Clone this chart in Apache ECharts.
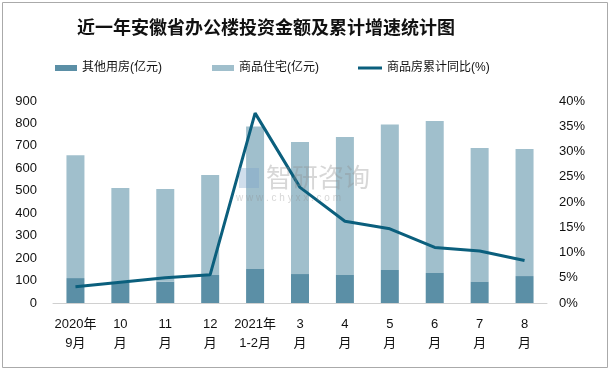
<!DOCTYPE html>
<html><head><meta charset="utf-8">
<script src="https://cdn.jsdelivr.net/npm/echarts@6/dist/echarts.min.js"></script>
<style>html,body{margin:0;padding:0;background:#fff}#c{width:611px;height:371px}</style>
</head><body><div id="c"></div>
<script>
const categories = ['2020年\n9月','10\n月','11\n月','12\n月','2021年\n1-2月','3\n月','4\n月','5\n月','6\n月','7\n月','8\n月'];
const otherHousing = [111, 90, 95, 125, 152, 129, 125, 147, 134, 94, 120];
const residential = [547, 422, 413, 445, 634, 588, 615, 648, 677, 597, 566];
const yoyGrowth = [3.2, 4.1, 5.0, 5.6, 37.6, 22.9, 16.2, 14.7, 11.0, 10.3, 8.4];
const leftTicks = [0, 900, 100];
const rightTicks = [0, 40, 5];

const font = '"Liberation Sans", "Noto Sans CJK SC", sans-serif';
const chart = echarts.init(document.getElementById('c'), null, {renderer: 'canvas'});
chart.setOption({
  animation: false,
  backgroundColor: '#fff',
  title: {
    text: '近一年安徽省办公楼投资金额及累计增速统计图',
    left: 261, top: 13, textAlign: 'center',
    textStyle: {fontSize: 18, fontWeight: 'bold', color: '#111', fontFamily: '"Noto Sans CJK SC", sans-serif'}
  },
  legend: [
    {
      top: 57, left: 50, itemGap: 50, itemWidth: 22, itemHeight: 6,
      textStyle: {fontSize: 12, color: '#111', fontFamily: font},
      data: [
        {name: '其他用房(亿元)', icon: 'rect'},
        {name: '商品住宅(亿元)', icon: 'rect'}
      ]
    },
    {
      top: 57, left: 353, itemWidth: 24, itemHeight: 3, icon: 'rect',
      textStyle: {fontSize: 12, color: '#111', fontFamily: font},
      data: [{name: '商品房累计同比(%)', icon: 'rect'}]
    }
  ],
  graphic: [
    {type: 'rect', shape: {x: 2.5, y: 2.5, width: 605, height: 365}, style: {fill: 'none', stroke: '#aaa', lineWidth: 1}, silent: true},
    {type: 'rect', shape: {x: 239, y: 168, width: 20, height: 20}, style: {fill: 'rgba(120,160,200,0.35)'}, z: 10, silent: true},
    {type: 'text', left: 266, top: 164, z: 10, silent: true, style: {text: '智研咨询', fontSize: 26, fill: 'rgba(140,140,140,0.35)', fontFamily: '"Noto Sans CJK SC", sans-serif'}},
    {type: 'text', left: 236, top: 193, z: 10, silent: true, style: {text: 'w w w . c h y x x . c o m', fontSize: 10, fill: 'rgba(140,140,140,0.35)', fontFamily: font}}
  ],
  grid: {left: 53, right: 64, top: 101, bottom: 68},
  xAxis: {
    type: 'category', data: categories,
    axisLine: {lineStyle: {color: '#d0d0d0', width: 1}},
    axisTick: {show: false},
    axisLabel: {interval: 0, fontSize: 13, color: '#111', lineHeight: 19, margin: 12, fontFamily: font}
  },
  yAxis: [
    {type: 'value', min: leftTicks[0], max: leftTicks[1], interval: leftTicks[2],
     splitLine: {show: false}, axisLine: {show: false}, axisTick: {show: false},
     axisLabel: {fontSize: 13, color: '#111', margin: 16, fontFamily: font}},
    {type: 'value', min: rightTicks[0], max: rightTicks[1], interval: rightTicks[2],
     splitLine: {show: false}, axisLine: {show: false}, axisTick: {show: false},
     axisLabel: {fontSize: 13, color: '#111', margin: 12, formatter: '{value}%', fontFamily: font}}
  ],
  series: [
    {name: '其他用房(亿元)', type: 'bar', stack: 's', data: otherHousing, barWidth: 18,
     itemStyle: {color: '#5b8fa6'}},
    {name: '商品住宅(亿元)', type: 'bar', stack: 's', data: residential, barWidth: 18,
     itemStyle: {color: '#a0bfcc'}},
    {name: '商品房累计同比(%)', type: 'line', yAxisIndex: 1, data: yoyGrowth,
     symbol: 'none', lineStyle: {color: '#0b5f7d', width: 3}, itemStyle: {color: '#0b5f7d'}, z: 5}
  ]
});
</script></body></html>
